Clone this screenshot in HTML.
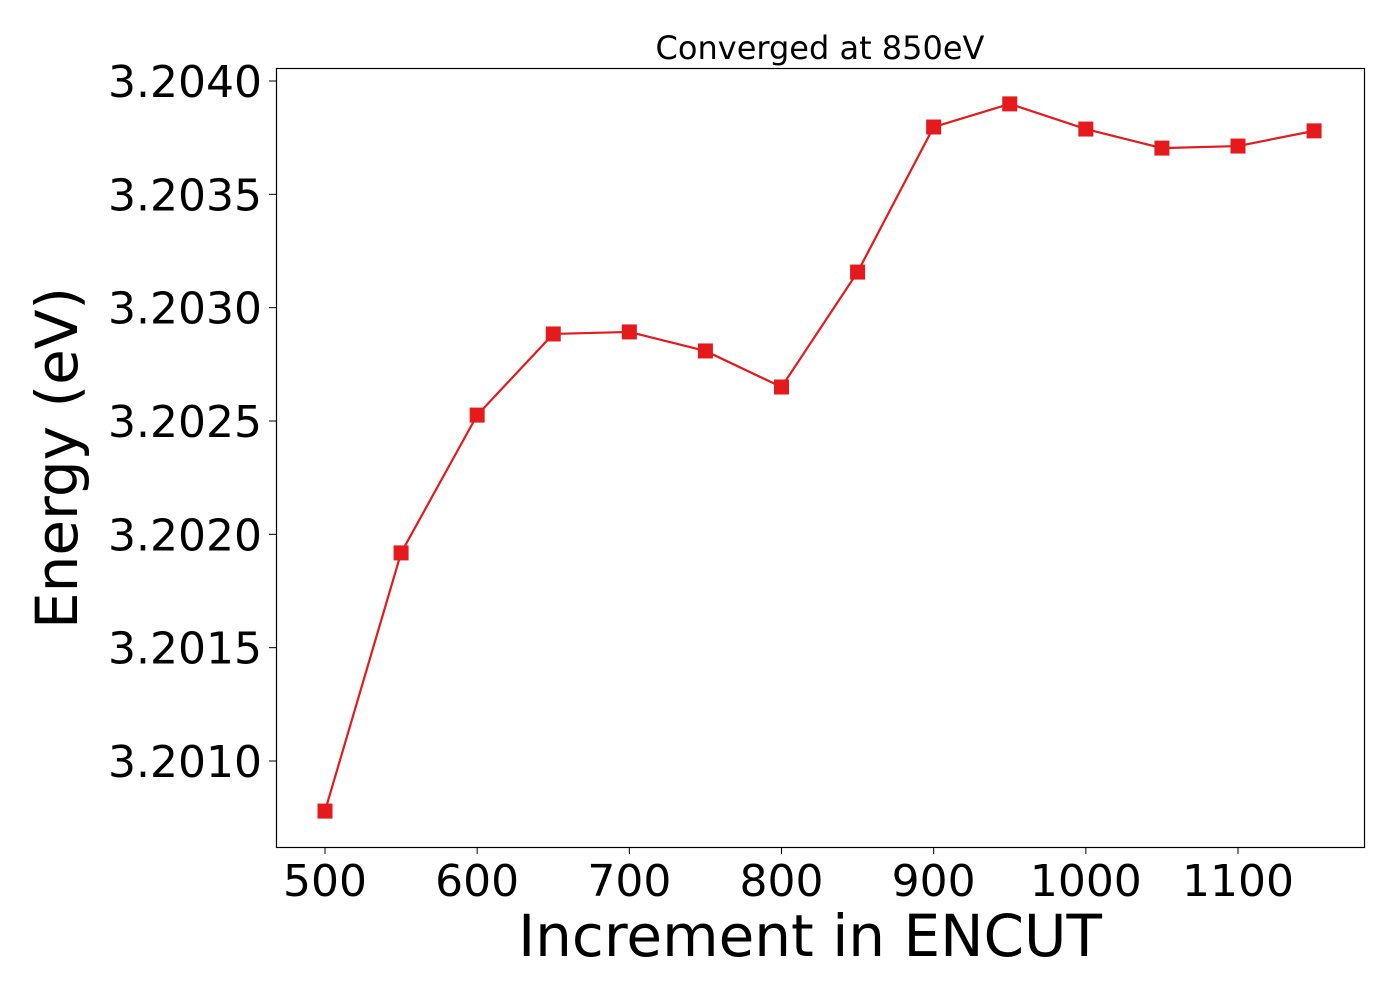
<!DOCTYPE html>
<html><head><meta charset="utf-8"><style>
html,body{margin:0;padding:0;background:#fff;}
svg{display:block;font-family:"DejaVu Sans","Liberation Sans",sans-serif;}
</style></head><body>
<svg id="chart" width="1400" height="1000">
<rect x="0" y="0" width="1400" height="1000" fill="#fff"/>
<text x="820" y="59" font-size="32" text-anchor="middle">Converged at 850eV</text>
<rect x="276.5" y="68.5" width="1088" height="779" fill="none" stroke="#000" stroke-width="1.2"/>
<g id="xticks"></g>
<g id="yticks"></g>
<g id="series"></g>
<text x="810" y="956" font-size="58" text-anchor="middle">Increment in ENCUT</text>
<text transform="translate(77,458) rotate(-90)" font-size="58" text-anchor="middle">Energy (eV)</text>
</svg>
<script>
const encut = [500,550,600,650,700,750,800,850,900,950,1000,1050,1100,1150];
const energy = [3.200779,3.201918,3.202526,3.202884,3.202893,3.202809,3.20265,3.203157,3.203797,3.203899,3.203788,3.203704,3.203713,3.20378];
const xTickValues = [500,600,700,800,900,1000,1100];
const yTickValues = [3.2010,3.2015,3.2020,3.2025,3.2030,3.2035,3.2040];
const NS="http://www.w3.org/2000/svg";
function xs(v){return 325+(v-500)*(1238-325)/600;}
function ys(v){return 81+(3.2040-v)*(761-81)/0.003;}
const xg=document.getElementById('xticks');
xTickValues.forEach(v=>{
  const l=document.createElementNS(NS,'line');
  l.setAttribute('x1',xs(v));l.setAttribute('x2',xs(v));l.setAttribute('y1',847);l.setAttribute('y2',854);l.setAttribute('stroke','#000');
  
  
  xg.appendChild(l);
  const t=document.createElementNS(NS,'text');
  t.setAttribute('x',xs(v));t.setAttribute('y',896);t.setAttribute('font-size','44');t.setAttribute('text-anchor','middle');
  t.textContent=v;
  
  
  xg.appendChild(t);
});
const yg=document.getElementById('yticks');
yTickValues.forEach(v=>{
  const l=document.createElementNS(NS,'line');
  l.setAttribute('x1',269);l.setAttribute('x2',276);l.setAttribute('y1',ys(v));l.setAttribute('y2',ys(v));l.setAttribute('stroke','#000');
  
  
  yg.appendChild(l);
  const t=document.createElementNS(NS,'text');
  t.setAttribute('x',262);t.setAttribute('y',ys(v)+16);t.setAttribute('font-size','44');t.setAttribute('text-anchor','end');
  t.textContent=v.toFixed(4);
  
  
  yg.appendChild(t);
});
const sg=document.getElementById('series');
const pl=document.createElementNS(NS,'polyline');
pl.setAttribute('points',encut.map((x,i)=>xs(x)+','+ys(energy[i])).join(' '));
pl.setAttribute('fill','none');pl.setAttribute('stroke','#e41a1c');pl.setAttribute('stroke-width','2.2');


sg.appendChild(pl);
encut.forEach((x,i)=>{
  const r=document.createElementNS(NS,'rect');
  r.setAttribute('x',xs(x)-7.5);r.setAttribute('y',ys(energy[i])-7.5);r.setAttribute('width',15);r.setAttribute('height',15);r.setAttribute('fill','#e41a1c');
  
  
  sg.appendChild(r);
});
</script>
</body></html>
